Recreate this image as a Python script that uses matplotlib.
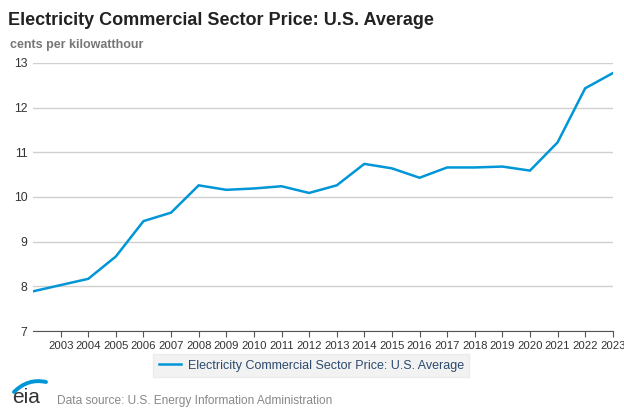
import matplotlib
matplotlib.use("Agg")
import matplotlib.pyplot as plt
from matplotlib.patches import PathPatch
from matplotlib.path import Path

plt.rcParams['font.family'] = ['Liberation Sans', 'DejaVu Sans']

years = list(range(2002, 2024))
prices = [7.89, 8.03, 8.17, 8.67, 9.46, 9.65, 10.26, 10.16, 10.19, 10.24, 10.09,
          10.26, 10.74, 10.64, 10.43, 10.66, 10.66, 10.68, 10.59, 11.22, 12.43, 12.77]
tick_years = list(range(2003, 2024))
yticks = [7, 8, 9, 10, 11, 12, 13]
series_name = "Electricity Commercial Sector Price: U.S. Average"

W, H = 624, 416
fig = plt.figure(figsize=(6.24, 4.16), dpi=100)
ax = fig.add_axes([0.053, 0.204, 0.929, 0.645])

ax.plot(years, prices, color='#0096d7', lw=1.8, label=series_name, solid_joinstyle='miter')
ax.set_xlim(2002, 2023)
ax.set_ylim(7, 13)
ax.set_yticks(yticks)
ax.set_xticks(tick_years)
ax.set_xticklabels([str(y) for y in tick_years], fontsize=8.2, color='#333333')
ax.set_yticklabels([str(y) for y in yticks], fontsize=8.8, color='#333333')
ax.grid(axis='y', color='#d0d0d0', lw=1)
ax.set_axisbelow(True)
for s in ['top', 'right', 'left']:
    ax.spines[s].set_visible(False)
ax.spines['bottom'].set_color('#555555')
ax.tick_params(axis='y', length=0, pad=4)
ax.tick_params(axis='x', length=4, color='#555555', pad=3)

fig.text(0.013, 0.95, "Electricity Commercial Sector Price: U.S. Average",
         fontsize=13, fontweight='bold', color='#222222', va='center')
fig.text(0.016, 0.893, "cents per kilowatthour", fontsize=9, fontweight='bold',
         color='#777777', va='center')

leg = ax.legend(loc='upper center', bbox_to_anchor=(0.499, 0.149),
                bbox_transform=fig.transFigure, borderaxespad=0, frameon=True,
                fontsize=9, handlelength=1.8, handletextpad=0.5, borderpad=0.45,
                fancybox=False)
leg.get_frame().set_facecolor('#efefef')
leg.get_frame().set_edgecolor('#e8e8e8')
for t in leg.get_texts():
    t.set_color('#2c4a6e')

# eia logo
fig.text(0.019, 0.022, "eia", fontsize=15, color='#333333', va='bottom')
def fp(x, y):
    return (x / W, 1 - y / H)
swoosh = Path([fp(14, 392), fp(28, 378), fp(46, 382)],
              [Path.MOVETO, Path.CURVE3, Path.CURVE3])
fig.add_artist(PathPatch(swoosh, fill=False, edgecolor='#0096d7', lw=2.8,
                         transform=fig.transFigure, capstyle='round'))
fig.text(0.091, 0.022, "Data source: U.S. Energy Information Administration",
         fontsize=8.6, color='#888888', va='bottom')

fig.savefig("out.png", dpi=100)
